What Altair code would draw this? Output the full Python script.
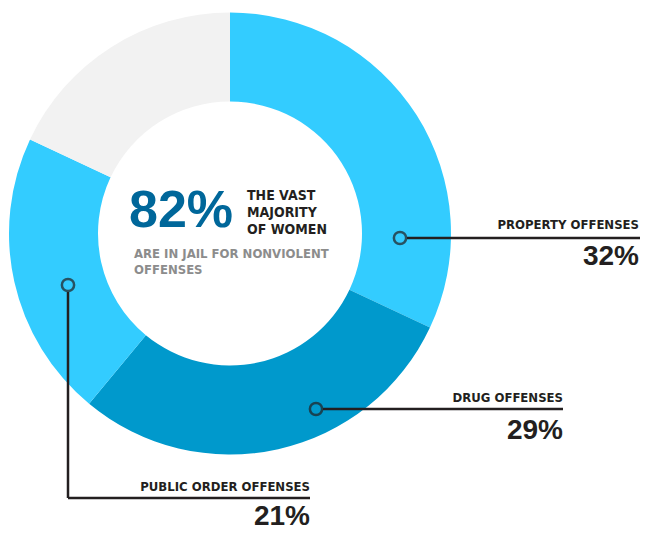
import altair as alt
import pandas as pd

# ---- data ----
categories = ["PROPERTY OFFENSES", "DRUG OFFENSES", "PUBLIC ORDER OFFENSES", "OTHER OFFENSES"]
shares = [32, 29, 21, 18]
slice_colors = ["#33CCFF", "#0099CC", "#33CCFF", "#F2F2F2"]
headline_value = "82%"
headline_lines = ["THE VAST", "MAJORITY", "OF WOMEN"]
sub_lines = ["ARE IN JAIL FOR NONVIOLENT", "OFFENSES"]

# ---- layout (chart pixel coordinates) ----
W, H = 632, 525
CX, CY = 222, 225.5
R_OUT, R_IN = 221, 132
DARK = "#231F20"
FONT = "'DejaVu Sans Condensed', 'Liberation Sans Narrow', 'Roboto Condensed', 'Liberation Sans', sans-serif"
BIGFONT = "'Liberation Sans', Arial, sans-serif"

# callout geometry for the three labelled slices
dots_x = [392, 308, 60]
dots_y = [230, 401, 277]
label_x = [631, 555, 302]
label_y = [221, 394, 483]
pct_y = [257, 431, 517]
segments = [  # x, y, x2, y2
    (399, 230, 632, 230),
    (315, 401, 555, 401),
    (60, 284, 60, 490),
    (60, 490, 302, 490),
]

xs = alt.Scale(domain=[0, W], nice=False, zero=False)
ys = alt.Scale(domain=[H, 0], nice=False, zero=False)

def X(f):
    return alt.X(f, type="quantitative", scale=xs, axis=None)

def Y(f):
    return alt.Y(f, type="quantitative", scale=ys, axis=None)

df = pd.DataFrame({"category": categories, "share": shares, "idx": list(range(len(categories)))})

donut = alt.Chart(df).mark_arc(outerRadius=R_OUT, innerRadius=R_IN, strokeWidth=0).encode(
    theta=alt.Theta("share:Q", stack=True),
    order=alt.Order("idx:Q"),
    color=alt.Color("category:N", scale=alt.Scale(domain=categories, range=slice_colors), legend=None),
    x=alt.value(CX),
    y=alt.value(CY),
)

call = pd.DataFrame({
    "label": categories[:3],
    "pct": [f"{v}%" for v in shares[:3]],
    "dx": dots_x, "dy": dots_y,
    "lx": label_x, "ly": label_y, "py": pct_y,
})

seg = pd.DataFrame(segments, columns=["x", "y", "x2", "y2"])

lines = alt.Chart(seg).mark_rule(color=DARK, strokeWidth=2.5).encode(
    x=X("x"), y=Y("y"), x2="x2", y2="y2"
)

dots = alt.Chart(call).mark_point(shape="circle", filled=False, size=150, strokeWidth=2.5, color=DARK).encode(
    x=X("dx"), y=Y("dy")
)

labels = alt.Chart(call).mark_text(align="right", baseline="alphabetic", font=FONT, fontWeight="bold",
                                    fontSize=13, color=DARK).encode(
    x=X("lx"), y=Y("ly"), text="label:N"
)

pcts = alt.Chart(call).mark_text(align="right", baseline="alphabetic", font=BIGFONT, fontWeight=900,
                                  fontSize=28, color=DARK).encode(
    x=X("lx"), y=Y("py"), text="pct:N"
)

center_big = alt.Chart(pd.DataFrame({"t": [headline_value], "x": [121], "y": [219]})).mark_text(
    align="left", baseline="alphabetic", font=BIGFONT, fontWeight="bold", fontSize=52, color="#00679A"
).encode(x=X("x"), y=Y("y"), text="t:N")

center_head = alt.Chart(pd.DataFrame({"t": headline_lines, "x": [239] * 3, "y": [192, 209, 226]})).mark_text(
    align="left", baseline="alphabetic", font=FONT, fontWeight="bold", fontSize=14, color=DARK
).encode(x=X("x"), y=Y("y"), text="t:N")

center_sub = alt.Chart(pd.DataFrame({"t": sub_lines, "x": [126] * 2, "y": [250, 266]})).mark_text(
    align="left", baseline="alphabetic", font=FONT, fontWeight="bold", fontSize=13, color="#8C8C8C"
).encode(x=X("x"), y=Y("y"), text="t:N")

chart = alt.layer(donut, lines, dots, labels, pcts, center_big, center_head, center_sub).properties(
    width=W, height=H, autosize=alt.AutoSizeParams(type="none"), padding=0
).configure_view(stroke=None)

chart.save("out.html", embed_options={"renderer": "svg", "actions": False})
